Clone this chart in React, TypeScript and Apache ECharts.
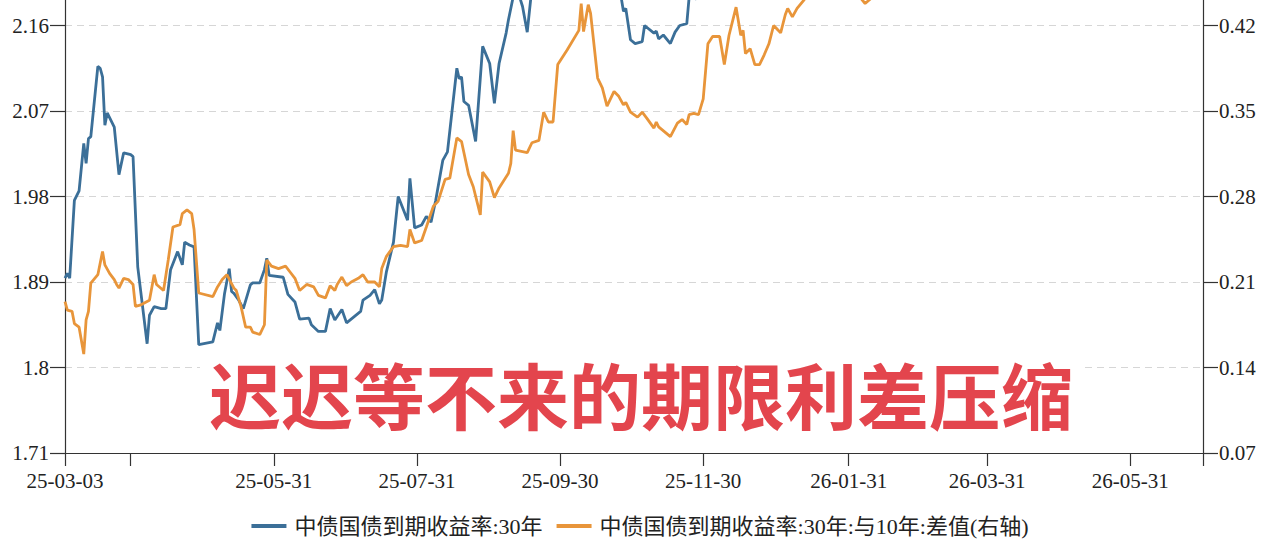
import * as React from "react";
import * as echarts from "echarts";

// 中债国债到期收益率:30年 (左轴, %)
const yield30: [string, number][] = [
  ["2025-03-03", 1.894], ["2025-03-04", 1.899], ["2025-03-05", 1.894], ["2025-03-07", 1.976],
  ["2025-03-09", 1.986], ["2025-03-11", 2.036], ["2025-03-12", 2.015], ["2025-03-13", 2.041],
  ["2025-03-14", 2.043], ["2025-03-17", 2.117], ["2025-03-18", 2.115], ["2025-03-19", 2.106],
  ["2025-03-20", 2.055], ["2025-03-21", 2.068], ["2025-03-24", 2.053], ["2025-03-26", 2.003],
  ["2025-03-28", 2.026], ["2025-03-31", 2.024], ["2025-04-01", 2.022], ["2025-04-03", 1.906],
  ["2025-04-07", 1.825], ["2025-04-08", 1.855], ["2025-04-10", 1.864], ["2025-04-13", 1.862],
  ["2025-04-15", 1.862], ["2025-04-17", 1.903], ["2025-04-20", 1.922], ["2025-04-22", 1.908],
  ["2025-04-23", 1.932], ["2025-04-25", 1.929], ["2025-04-27", 1.927], ["2025-04-29", 1.824],
  ["2025-05-05", 1.827], ["2025-05-07", 1.847], ["2025-05-08", 1.839], ["2025-05-10", 1.878],
  ["2025-05-12", 1.904], ["2025-05-13", 1.880], ["2025-05-14", 1.878], ["2025-05-16", 1.871],
  ["2025-05-18", 1.862], ["2025-05-21", 1.887], ["2025-05-22", 1.889], ["2025-05-25", 1.889],
  ["2025-05-27", 1.903], ["2025-05-28", 1.915], ["2025-05-29", 1.897], ["2025-06-04", 1.895],
  ["2025-06-06", 1.877], ["2025-06-09", 1.869], ["2025-06-11", 1.851], ["2025-06-15", 1.852],
  ["2025-06-16", 1.845], ["2025-06-19", 1.838], ["2025-06-22", 1.838], ["2025-06-24", 1.862],
  ["2025-06-26", 1.850], ["2025-06-29", 1.861], ["2025-07-01", 1.847], ["2025-07-04", 1.853],
  ["2025-07-07", 1.859], ["2025-07-08", 1.871], ["2025-07-11", 1.876], ["2025-07-13", 1.882],
  ["2025-07-15", 1.867], ["2025-07-16", 1.871], ["2025-07-18", 1.901], ["2025-07-21", 1.932],
  ["2025-07-23", 1.980], ["2025-07-27", 1.955], ["2025-07-28", 1.999], ["2025-07-30", 1.947],
  ["2025-08-02", 1.950], ["2025-08-04", 1.959], ["2025-08-06", 1.953], ["2025-08-08", 1.976],
  ["2025-08-11", 2.018], ["2025-08-13", 2.027], ["2025-08-17", 2.115], ["2025-08-18", 2.104],
  ["2025-08-19", 2.106], ["2025-08-20", 2.080], ["2025-08-22", 2.076], ["2025-08-25", 2.038],
  ["2025-08-28", 2.138], ["2025-08-31", 2.120], ["2025-09-02", 2.078], ["2025-09-04", 2.120],
  ["2025-09-07", 2.152], ["2025-09-08", 2.166], ["2025-09-10", 2.190], ["2025-09-12", 2.196],
  ["2025-09-14", 2.180], ["2025-09-16", 2.153], ["2025-09-18", 2.200], ["2025-09-21", 2.205],
  ["2025-09-25", 2.225], ["2025-09-29", 2.240], ["2025-10-03", 2.235], ["2025-10-07", 2.220],
  ["2025-10-11", 2.210], ["2025-10-15", 2.200], ["2025-10-20", 2.188], ["2025-10-23", 2.195],
  ["2025-10-26", 2.190], ["2025-10-27", 2.175], ["2025-10-28", 2.178], ["2025-10-30", 2.145],
  ["2025-11-01", 2.141], ["2025-11-04", 2.143], ["2025-11-05", 2.160], ["2025-11-09", 2.152],
  ["2025-11-10", 2.154], ["2025-11-11", 2.146], ["2025-11-13", 2.150], ["2025-11-16", 2.141],
  ["2025-11-18", 2.153], ["2025-11-20", 2.160], ["2025-11-23", 2.162], ["2025-11-24", 2.190],
  ["2025-11-27", 2.188], ["2025-11-30", 2.200], ["2025-12-06", 2.230], ["2025-12-12", 2.220],
  ["2025-12-18", 2.250], ["2025-12-24", 2.240], ["2025-12-30", 2.270], ["2026-01-05", 2.260],
  ["2026-01-11", 2.280], ["2026-01-17", 2.270], ["2026-01-23", 2.290], ["2026-01-29", 2.270],
  ["2026-02-04", 2.250], ["2026-02-10", 2.230], ["2026-02-16", 2.210], ["2026-02-21", 2.195],
  ["2026-02-23", 2.188], ["2026-02-25", 2.205],
];

// 中债国债到期收益率:30年:与10年:差值 (右轴, %)
const spread30v10: [string, number][] = [
  ["2025-03-03", 0.194], ["2025-03-04", 0.187], ["2025-03-06", 0.186], ["2025-03-07", 0.176],
  ["2025-03-09", 0.173], ["2025-03-11", 0.151], ["2025-03-12", 0.179], ["2025-03-13", 0.186],
  ["2025-03-14", 0.209], ["2025-03-17", 0.216], ["2025-03-19", 0.235], ["2025-03-20", 0.224],
  ["2025-03-22", 0.217], ["2025-03-24", 0.212], ["2025-03-25", 0.208], ["2025-03-26", 0.205],
  ["2025-03-28", 0.213], ["2025-03-30", 0.212], ["2025-04-01", 0.208], ["2025-04-02", 0.190],
  ["2025-04-04", 0.191], ["2025-04-06", 0.193], ["2025-04-08", 0.195], ["2025-04-10", 0.216],
  ["2025-04-11", 0.208], ["2025-04-14", 0.203], ["2025-04-16", 0.228], ["2025-04-18", 0.255],
  ["2025-04-21", 0.257], ["2025-04-22", 0.266], ["2025-04-24", 0.269], ["2025-04-26", 0.266],
  ["2025-04-27", 0.253], ["2025-04-29", 0.201], ["2025-05-05", 0.198], ["2025-05-07", 0.206],
  ["2025-05-09", 0.212], ["2025-05-11", 0.216], ["2025-05-14", 0.205], ["2025-05-15", 0.203],
  ["2025-05-17", 0.190], ["2025-05-19", 0.173], ["2025-05-21", 0.173], ["2025-05-22", 0.169],
  ["2025-05-25", 0.167], ["2025-05-27", 0.175], ["2025-05-28", 0.228], ["2025-05-30", 0.223],
  ["2025-06-02", 0.221], ["2025-06-05", 0.223], ["2025-06-07", 0.218], ["2025-06-09", 0.213],
  ["2025-06-11", 0.203], ["2025-06-14", 0.208], ["2025-06-17", 0.206], ["2025-06-19", 0.199],
  ["2025-06-22", 0.197], ["2025-06-24", 0.207], ["2025-06-26", 0.203], ["2025-06-27", 0.208],
  ["2025-06-29", 0.214], ["2025-07-01", 0.207], ["2025-07-03", 0.210], ["2025-07-06", 0.213],
  ["2025-07-08", 0.216], ["2025-07-10", 0.210], ["2025-07-13", 0.210], ["2025-07-15", 0.206],
  ["2025-07-16", 0.221], ["2025-07-18", 0.231], ["2025-07-21", 0.239], ["2025-07-24", 0.240],
  ["2025-07-27", 0.239], ["2025-07-28", 0.253], ["2025-07-30", 0.242], ["2025-08-02", 0.244],
  ["2025-08-04", 0.255], ["2025-08-07", 0.272], ["2025-08-09", 0.276], ["2025-08-12", 0.294],
  ["2025-08-14", 0.295], ["2025-08-17", 0.328], ["2025-08-19", 0.325], ["2025-08-22", 0.298],
  ["2025-08-24", 0.288], ["2025-08-27", 0.265], ["2025-08-28", 0.300], ["2025-08-31", 0.292],
  ["2025-09-02", 0.279], ["2025-09-04", 0.287], ["2025-09-08", 0.299], ["2025-09-09", 0.307],
  ["2025-09-10", 0.334], ["2025-09-11", 0.318], ["2025-09-16", 0.316], ["2025-09-18", 0.324],
  ["2025-09-21", 0.326], ["2025-09-23", 0.349], ["2025-09-25", 0.341], ["2025-09-27", 0.341],
  ["2025-09-29", 0.388], ["2025-10-03", 0.400], ["2025-10-08", 0.416], ["2025-10-09", 0.438],
  ["2025-10-10", 0.415], ["2025-10-12", 0.437], ["2025-10-13", 0.430], ["2025-10-16", 0.377],
  ["2025-10-18", 0.369], ["2025-10-20", 0.354], ["2025-10-23", 0.366], ["2025-10-25", 0.362],
  ["2025-10-27", 0.355], ["2025-10-28", 0.357], ["2025-10-30", 0.349], ["2025-11-02", 0.345],
  ["2025-11-04", 0.349], ["2025-11-06", 0.344], ["2025-11-09", 0.336], ["2025-11-10", 0.341],
  ["2025-11-11", 0.337], ["2025-11-16", 0.329], ["2025-11-19", 0.340], ["2025-11-21", 0.343],
  ["2025-11-23", 0.339], ["2025-11-24", 0.347], ["2025-11-26", 0.348], ["2025-11-28", 0.347],
  ["2025-11-30", 0.360], ["2025-12-02", 0.405], ["2025-12-04", 0.411], ["2025-12-07", 0.411],
  ["2025-12-09", 0.388], ["2025-12-11", 0.412], ["2025-12-14", 0.435], ["2025-12-16", 0.412],
  ["2025-12-17", 0.416], ["2025-12-18", 0.397], ["2025-12-20", 0.401], ["2025-12-22", 0.388],
  ["2025-12-24", 0.388], ["2025-12-26", 0.396], ["2025-12-28", 0.405], ["2025-12-30", 0.420],
  ["2026-01-02", 0.414], ["2026-01-04", 0.429], ["2026-01-05", 0.434], ["2026-01-07", 0.427],
  ["2026-01-09", 0.434], ["2026-01-12", 0.441], ["2026-01-15", 0.450], ["2026-01-19", 0.455],
  ["2026-01-23", 0.460], ["2026-01-27", 0.452], ["2026-01-31", 0.447], ["2026-02-04", 0.445],
  ["2026-02-07", 0.438], ["2026-02-10", 0.443], ["2026-02-14", 0.452], ["2026-02-18", 0.455],
  ["2026-02-22", 0.460], ["2026-02-25", 0.458],
];

const xStart = "2025-03-03";
const xEnd = "2026-07-01";
const xLabelDates = ["2025-03-03", "2025-05-31", "2025-07-31", "2025-09-30", "2025-11-30", "2026-01-31", "2026-03-31", "2026-05-31"];
const xTickDates = ["2025-03-03", "2025-03-31", "2025-05-31", "2025-07-31", "2025-09-30", "2025-11-30", "2026-01-31", "2026-03-31", "2026-05-31", "2026-07-01"];
const leftTicks = [1.71, 1.8, 1.89, 1.98, 2.07, 2.16, 2.25];
const rightTicks = [0.07, 0.14, 0.21, 0.28, 0.35, 0.42, 0.49];
const seriesNames = ["中债国债到期收益率:30年", "中债国债到期收益率:30年:与10年:差值(右轴)"];
const titleText = "迟迟等不来的期限利差压缩";

const DAY = 86400000;
// whole days since epoch, parsed as UTC so no timezone shift
const dayNum = (s: string) => {
  const [y, m, d] = s.split("-").map(Number);
  return Date.UTC(y, m - 1, d) / DAY;
};
const pad = (n: number) => (n < 10 ? "0" + n : "" + n);
const fmtDay = (v: number) => {
  const d = new Date(Math.round(v) * DAY);
  return `${pad(d.getUTCFullYear() % 100)}-${pad(d.getUTCMonth() + 1)}-${pad(d.getUTCDate())}`;
};

const FONT = '"Liberation Serif", "Times New Roman", "Noto Sans CJK SC", serif';
const AXIS = "#333";
// the top axis row (2.25 / 0.49) sits above the visible page, as in the cropped original
const SHIFT = 60;

export default function App() {
  const ref = React.useRef<HTMLDivElement>(null);
  React.useEffect(() => {
    document.body.style.margin = "0";
    document.body.style.overflow = "hidden";
    if (!ref.current) return;
    const chart = echarts.init(ref.current, null, { renderer: "svg" });
    const yAxisCommon = {
      type: "value",
      axisLine: { show: true, lineStyle: { color: AXIS, width: 1.2 } },
      axisTick: { show: true, length: 15, lineStyle: { color: AXIS, width: 1.2 } },
      axisLabel: { margin: 16, fontSize: 21, color: "#222", fontFamily: FONT, showMaxLabel: false },
    };
    chart.setOption({
      animation: false,
      grid: { left: 65, right: 77, top: 0, bottom: 91, outerBoundsMode: "none" },
      legend: {
        top: 510 + SHIFT,
        left: "center",
        icon: "rect",
        itemWidth: 35,
        itemHeight: 4,
        itemGap: 14,
        textStyle: { fontSize: 22, color: "#222", fontFamily: FONT, padding: [0, 0, 0, 3] },
        data: seriesNames,
      },
      xAxis: {
        type: "value",
        min: dayNum(xStart),
        max: dayNum(xEnd),
        axisLine: { lineStyle: { color: AXIS, width: 1.2 } },
        axisTick: { show: true, length: 13, customValues: xTickDates.map(dayNum), lineStyle: { color: AXIS, width: 1.2 } },
        axisLabel: {
          customValues: xLabelDates.map(dayNum),
          formatter: (v: number) => fmtDay(v),
          margin: 17,
          fontSize: 21,
          color: "#222",
          fontFamily: FONT,
        },
        splitLine: { show: false },
      },
      yAxis: [
        {
          ...yAxisCommon,
          position: "left",
          min: leftTicks[0],
          max: leftTicks[leftTicks.length - 1],
          interval: 0.09,
          splitLine: { show: true, lineStyle: { color: "#d6d6d6", type: [7, 5], width: 1 } },
        },
        {
          ...yAxisCommon,
          position: "right",
          min: rightTicks[0],
          max: rightTicks[rightTicks.length - 1],
          interval: 0.07,
          splitLine: { show: false },
        },
      ],
      series: [
        {
          name: seriesNames[0],
          type: "line",
          yAxisIndex: 0,
          showSymbol: false,
          symbol: "none",
          lineStyle: { color: "#3b6f98", width: 2.8 },
          itemStyle: { color: "#3b6f98" },
          data: yield30.map(([d, v]) => [dayNum(d), v]),
        },
        {
          name: seriesNames[1],
          type: "line",
          yAxisIndex: 1,
          showSymbol: false,
          symbol: "none",
          lineStyle: { color: "#e8953a", width: 2.8 },
          itemStyle: { color: "#e8953a" },
          data: spread30v10.map(([d, v]) => [dayNum(d), v]),
        },
      ],
      graphic: [
        {
          type: "rect",
          x: 200,
          y: 352 + SHIFT,
          shape: { width: 882, height: 82 },
          style: { fill: "#ffffff" },
          z: 100,
        },
        {
          type: "text",
          x: 641,
          y: 392 + SHIFT,
          z: 101,
          style: {
            text: titleText,
            fill: "#e3454d",
            fontSize: 72,
            fontWeight: "bold",
            fontFamily: '"Noto Sans CJK SC", sans-serif',
            align: "center",
            verticalAlign: "middle",
            stroke: "#ffffff",
            lineWidth: 3,
          },
        },
      ],
    });
    return () => chart.dispose();
  }, []);
  return <div ref={ref} style={{ width: 1280, height: 544 + SHIFT, marginTop: -SHIFT }} />;
}
